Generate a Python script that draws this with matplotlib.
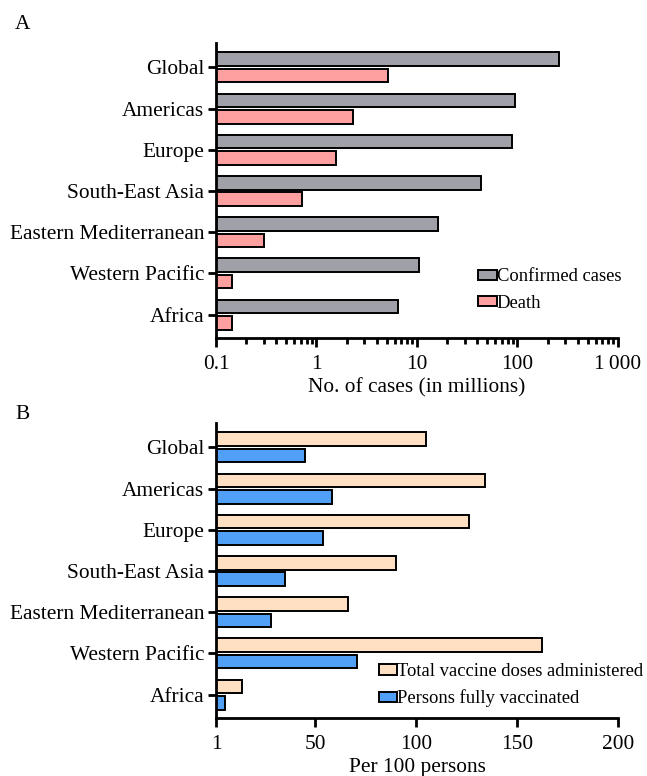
import numpy as np
import matplotlib
matplotlib.use("Agg")
import matplotlib.pyplot as plt
from matplotlib.patches import Patch

plt.rcParams['font.family'] = ['Liberation Serif', 'DejaVu Serif']

regions = ["Global", "Americas", "Europe", "South-East Asia",
           "Eastern Mediterranean", "Western Pacific", "Africa"]

# panel A, millions
confirmed = [262, 95, 88, 43, 16.3, 10.4, 6.5]
deaths = [5.2, 2.3, 1.55, 0.71, 0.30, 0.145, 0.145]

# panel B, per 100 persons
total_doses = [105, 134, 126.5, 90, 66.5, 162.5, 14]
fully_vacc = [45, 58.5, 54, 35, 28, 71, 5.5]

c_conf = "#a0a0a8"
c_death = "#ffa0a0"
c_dose = "#ffe0c2"
c_full = "#51a0f8"

FS = 15.4
LFS = 13.4
fig = plt.figure(figsize=(6.47, 7.76), dpi=100)
axA = fig.add_axes([0.3338, 0.5648, 0.6213, 0.3802])
axB = fig.add_axes([0.3338, 0.0751, 0.6213, 0.3802])

y = np.arange(len(regions))
h = 0.33
off = 0.2
lw = 1.4


def style(ax):
    for s in ["top", "right"]:
        ax.spines[s].set_visible(False)
    for s in ["left", "bottom"]:
        ax.spines[s].set_linewidth(2.0)
    ax.set_yticks(y)
    ax.set_yticklabels(regions)
    ax.set_ylim(6.56, -0.6)
    ax.tick_params(axis="y", length=5.5, width=2.0, pad=3, labelsize=FS)
    ax.tick_params(axis="x", which="major", length=6.5, width=2.0, pad=6, labelsize=FS)


def legend(ax, handles, anchor):
    ax.legend(handles=handles, loc="upper left", bbox_to_anchor=anchor, frameon=False,
              fontsize=LFS, handlelength=1.0, handleheight=0.47, handletextpad=0.0,
              borderpad=0, borderaxespad=0, labelspacing=0.5)


# A
axA.barh(y - off, confirmed, height=h, color=c_conf, edgecolor="black", linewidth=lw)
axA.barh(y + off, deaths, height=h, color=c_death, edgecolor="black", linewidth=lw)
axA.set_xscale("log")
axA.set_xlim(0.1, 1000)
style(axA)
axA.set_xticks([0.1, 1, 10, 100, 1000])
axA.set_xticklabels(["0.1", "1", "10", "100", "1\u2009000"])
axA.tick_params(axis="x", which="minor", length=4, width=2.0)
axA.set_xlabel("No. of cases (in millions)", fontsize=FS, labelpad=3)
legend(axA, [Patch(facecolor=c_conf, edgecolor="black", linewidth=lw, label="Confirmed cases"),
             Patch(facecolor=c_death, edgecolor="black", linewidth=lw, label="Death")],
       (0.652, 0.235))

# B
axB.barh(y - off, total_doses, height=h, color=c_dose, edgecolor="black", linewidth=lw)
axB.barh(y + off, fully_vacc, height=h, color=c_full, edgecolor="black", linewidth=lw)
axB.set_xlim(1, 200)
style(axB)
axB.set_xticks([1, 50, 100, 150, 200])
axB.set_xlabel("Per 100 persons", fontsize=FS, labelpad=3)
legend(axB, [Patch(facecolor=c_dose, edgecolor="black", linewidth=lw,
                   label="Total vaccine doses administered"),
             Patch(facecolor=c_full, edgecolor="black", linewidth=lw,
                   label="Persons fully vaccinated")],
       (0.405, 0.185))

fig.text(15 / 647, 1 - 29 / 776, "A", fontsize=FS)
fig.text(15 / 647, 1 - 419 / 776, "B", fontsize=FS)

fig.savefig("out.png", dpi=100)
